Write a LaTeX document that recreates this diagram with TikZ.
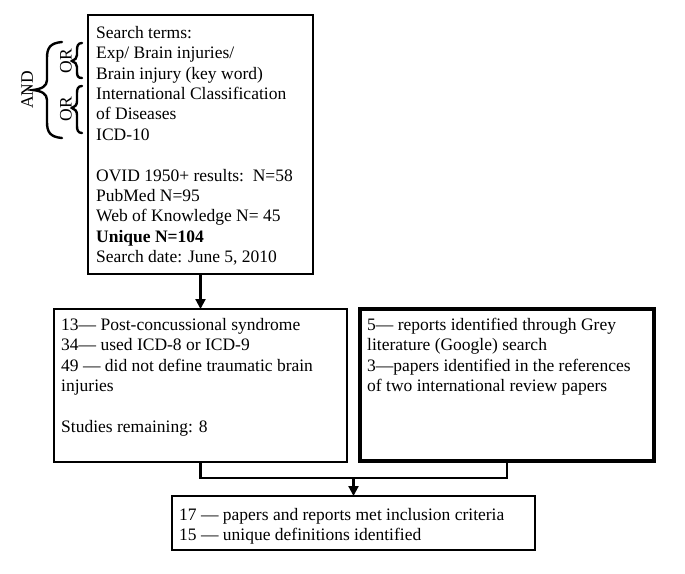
\documentclass[tikz,border=0pt]{standalone}
\usepackage{fontspec}
\setmainfont{Liberation Serif}
\usetikzlibrary{arrows.meta}
\begin{document}
\begin{tikzpicture}[x=1pt,y=-1pt,
  box/.style={draw, line width=2.2pt, anchor=north west, inner sep=0pt, outer sep=0pt},
  thickbox/.style={box, line width=4pt},
  txt/.style={anchor=north west, inner sep=0pt, align=left, font=\fontsize{17.5}{20.4}\selectfont},
  lbl/.style={inner sep=0pt, rotate=90, font=\fontsize{17.5}{20.4}\selectfont},
  brc/.style={line width=2.4pt, line cap=round},
  conn/.style={line width=2.2pt},
  arr/.style={conn, -{Triangle[width=10pt,length=10pt]}}]
\useasboundingbox (0,0) rectangle (685,573);

% boxes
\node[box, minimum width=225pt, minimum height=259pt] (top) at (88,15) {};
\node[box, minimum width=293pt, minimum height=153pt] (left) at (54,309) {};
\node[thickbox, minimum width=294pt, minimum height=152pt] (right) at (360,309) {};
\node[box, minimum width=363pt, minimum height=54pt] (bot) at (172,496) {};

% texts
\node[txt] (ttext) at (96,24) {\rule{0pt}{14pt}Search terms:\\ Exp/ Brain injuries/\\ Brain injury (key word)\\ International Classification\\ of Diseases\\ ICD-10\\[20.4pt] OVID 1950+ results:\ \ N=58\\ PubMed N=95\\ Web of Knowledge N= 45\\ \textbf{Unique N=104}\\ Search date: June 5, 2010};
\node[txt] (ltext) at (61,316) {\rule{0pt}{14pt}13— Post-concussional syndrome\\ 34— used ICD-8 or ICD-9\\ 49 — did not define traumatic brain\\ injuries\\[20.4pt] Studies remaining: 8};
\node[txt] (rtext) at (367,316) {\rule{0pt}{14pt}5— reports identified through Grey\\ literature (Google) search\\ 3—papers identified in the references\\ of two international review papers};
\node[txt] (btext) at (179,506) {\rule{0pt}{14pt}17 — papers and reports met inclusion criteria\\ 15 — unique definitions identified};

% braces
\draw[brc] (62,42) .. controls (50,43) and (47,48) .. (47,58) -- (47,80) .. controls (47,86) and (42,89) .. (33,90) .. controls (42,91) and (47,94) .. (47,100) -- (47,122) .. controls (47,132) and (50,137) .. (62,138);
\draw[brc] (82,43) .. controls (78,43) and (77,46) .. (77,50) -- (77,55) .. controls (77,58) and (75,60) .. (72,61) .. controls (75,62) and (77,64) .. (77,67) -- (77,72) .. controls (77,76) and (78,78) .. (82,78);
\draw[brc] (82,86) .. controls (78,86) and (77,89) .. (77,93) -- (77,101) .. controls (77,105) and (75,107) .. (72,108) .. controls (75,109) and (77,111) .. (77,115) -- (77,126) .. controls (77,130) and (78,133) .. (82,133);
\node[lbl] (and) at (27,90) {AND};
\node[lbl] (or1) at (66,61) {OR};
\node[lbl] (or2) at (66,109) {OR};

% connectors
\draw[arr] (top.south) -- (left.north);
\draw[conn] (left.south) -- ++(0,16) -| (right.south);
\coordinate (j) at (353.5,478);
\draw[arr] (j) -- (bot.north);
\end{tikzpicture}
\end{document}
